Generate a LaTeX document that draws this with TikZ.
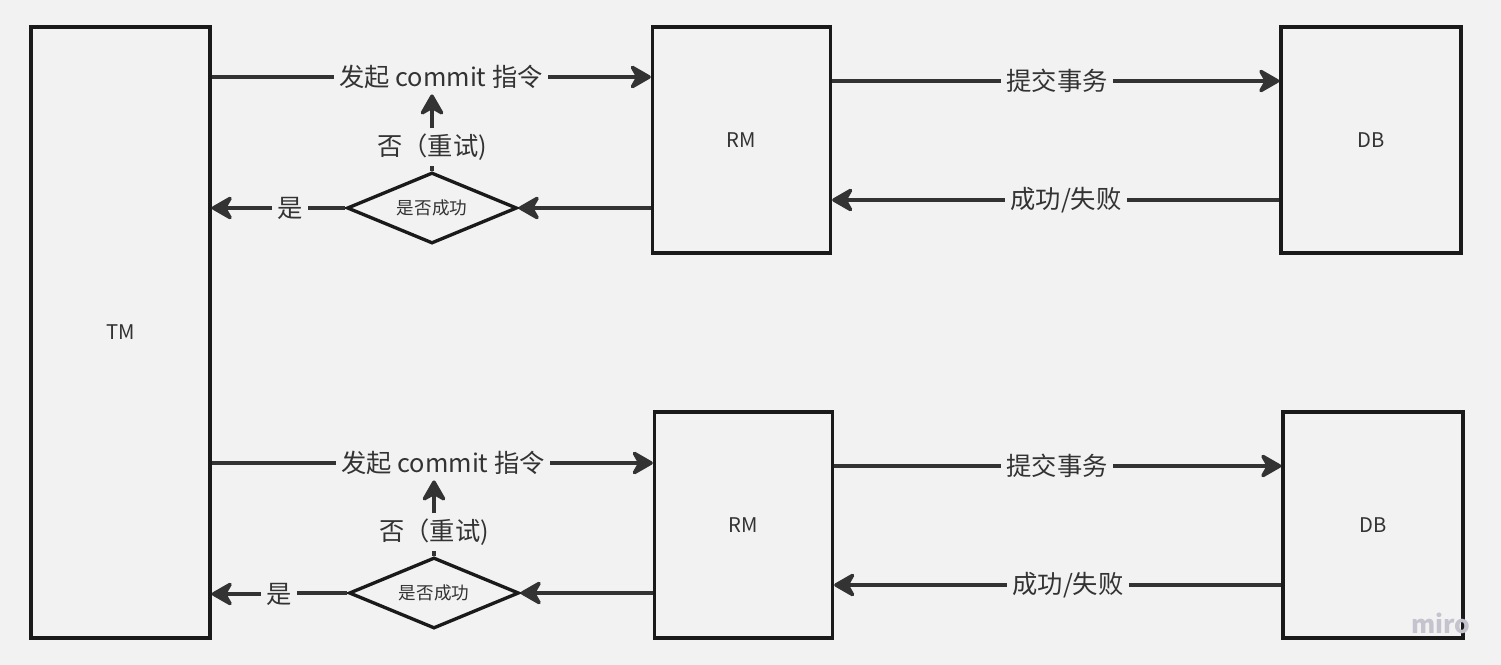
\documentclass[tikz,border=0pt]{standalone}
\usepackage{fontspec}
\setmainfont{Noto Sans CJK SC}
\usetikzlibrary{shapes.geometric,arrows.meta}
\definecolor{bgcol}{HTML}{F2F2F2}
\definecolor{inkcol}{HTML}{333333}
\definecolor{boxcol}{HTML}{1A1A1A}
\definecolor{markcol}{HTML}{C4C3CE}
\tikzset{my box/.style={draw=boxcol, line width=1.9pt, minimum width=3.56cm, minimum height=4.52cm, font=\fontsize{11.5}{13}\selectfont, text=inkcol},
my check/.style={draw=boxcol, line width=1.9pt, diamond, aspect=2.4, inner sep=0pt, minimum width=3.4cm, minimum height=1.42cm, font=\fontsize{10}{12}\selectfont, text=inkcol},
my label/.style={inner sep=3pt, font=\fontsize{14.4}{16}\selectfont, text=inkcol},
my line/.style={draw=inkcol, line width=2pt},
my arrow/.style={my line, -{Stealth[length=14pt, width=16pt, inset=4.5pt, round]}},}

\begin{document}
\begin{tikzpicture}[x=0.02cm, y=-0.02cm]
\useasboundingbox[fill=bgcol] (0,0) rectangle (1501,665);
% boxes
\node [my box, minimum width=3.58cm, minimum height=12.22cm] (tm) at (120.5, 332.5) {TM};
\node [my box] (rm1) at (741.5, 140) {RM};
\node [my box, minimum width=3.6cm] (db1) at (1371, 140) {DB};
\node [my box] (rm2) at (743.5, 525) {RM};
\node [my box, minimum width=3.6cm] (db2) at (1373, 525) {DB};
\node [my check] (chk1) at (432, 208) {是否成功};
\node [my check] (chk2) at (434, 593) {是否成功};
% labels
\node [my label] (cmd1) at (441, 77) {发起 commit 指令};
\node [my label] (retry1) at (432, 147) {否（重试)};
\node [my label] (yes1) at (290, 208) {是};
\node [my label] (tx1) at (1057, 81) {提交事务};
\node [my label] (res1) at (1066, 200) {成功/失败};
\node [my label] (cmd2) at (443, 463) {发起 commit 指令};
\node [my label] (retry2) at (434, 532) {否（重试)};
\node [my label] (yes2) at (279, 594) {是};
\node [my label] (tx2) at (1057, 466) {提交事务};
\node [my label] (res2) at (1068, 585) {成功/失败};
\node [font=\bfseries\fontsize{14}{15}\selectfont, text=markcol] (wm) at (1441, 623) {miro};
% upper branch
\draw [my line] (tm.east |- cmd1) -- (cmd1);
\draw [my arrow] (cmd1) -- (rm1.west |- cmd1);
\draw [my line] (rm1.east |- tx1) -- (tx1);
\draw [my arrow] (tx1) -- (db1.west |- tx1);
\draw [my line] (db1.west |- res1) -- (res1);
\draw [my arrow] (res1) -- (rm1.east |- res1);
\draw [my arrow] (rm1.west |- chk1) -- (chk1.east);
\draw [my line] (chk1.west) -- (yes1);
\draw [my arrow] (yes1) -- (tm.east |- yes1);
\draw [my line] (chk1.north) -- (retry1);
\draw [my arrow] (retry1) -- (retry1 |- cmd1.south);
% lower branch
\draw [my line] (tm.east |- cmd2) -- (cmd2);
\draw [my arrow] (cmd2) -- (rm2.west |- cmd2);
\draw [my line] (rm2.east |- tx2) -- (tx2);
\draw [my arrow] (tx2) -- (db2.west |- tx2);
\draw [my line] (db2.west |- res2) -- (res2);
\draw [my arrow] (res2) -- (rm2.east |- res2);
\draw [my arrow] (rm2.west |- chk2) -- (chk2.east);
\draw [my line] (chk2.west) -- (chk2.west -| yes2.east);
\draw [my arrow] (yes2) -- (tm.east |- yes2);
\draw [my line] (chk2.north) -- (retry2);
\draw [my arrow] (retry2) -- (retry2 |- cmd2.south);
\end{tikzpicture}
\end{document}
